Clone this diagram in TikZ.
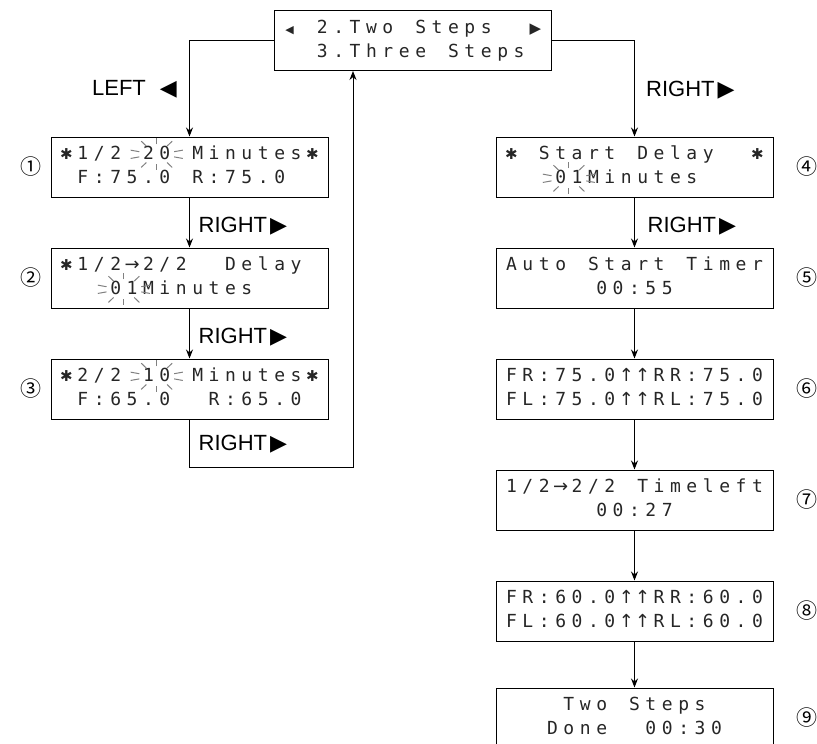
\documentclass[tikz,border=0pt]{standalone}
\usepackage{fontspec}
\setmainfont{Liberation Sans}
\newfontfamily\lcdfont{DejaVu Sans Mono}
\newfontfamily\dvsym{DejaVu Sans}
\newfontfamily\cjknum{Noto Sans CJK JP}
\usepackage{tikz}
\usetikzlibrary{arrows.meta, positioning, calc}

% one LCD line: every character in a cell of fixed width (~ for a blank cell)
\makeatletter
\newlength\lcdcw
\setlength\lcdcw{16.4pt}
\newcommand\lcdline[1]{\strut\lcd@next#1\relax}
\def\lcd@next#1{\ifx\relax#1\else\makebox[\lcdcw]{#1}\expandafter\lcd@next\fi}
\makeatother
\newcommand\lcdstar{{\dvsym\fontsize{15}{15}\selectfont ✱}}
\newcommand\lcdleft{{\dvsym\fontsize{11}{11}\selectfont ◀}}
\newcommand\lcdright{{\dvsym\fontsize{15}{15}\selectfont ▶}}
\newcommand\lcdup{{\dvsym ↑}}
\newcommand\lcdto{{\dvsym →}}
\newcommand\rightkey{RIGHT\hspace{3pt}{\dvsym ▶}}

\begin{document}
\begin{tikzpicture}[
    x=1pt, y=-1pt,
    lcdbox/.style={
        rectangle,
        draw,
        line width=1pt,
        minimum width=277pt,
        minimum height=60pt,
        inner sep=0pt,
        align=center,
        text=black!85,
        font=\lcdfont\fontsize{18}{24}\selectfont
    },
    arrow/.style={
        -{Stealth[length=9pt, width=7pt]},
        line width=1pt
    },
    keylbl/.style={
        font=\fontsize{22}{22}\selectfont,
        inner sep=0pt
    },
    stepnum/.style={
        font=\cjknum\fontsize{21}{21}\selectfont,
        inner sep=0pt
    },
    ray/.style={
        black!50,
        line width=1pt
    }
]
\useasboundingbox (0,0) rectangle (817,744);

% Nodes (menu on top)
\node[lcdbox] (menu) at (412.5,40.5) {\lcdline{\lcdleft~2.Two~Steps~~\lcdright}\\\lcdline{~~3.Three~Steps~}};

% Left column
\node[lcdbox] (two1) at (189.5,167) {\lcdline{\lcdstar1/2~20~Minutes\lcdstar}\\\lcdline{~F:75.0~R:75.0~~}};
\node[lcdbox, below=50pt of two1] (two2) {\lcdline{\lcdstar1/2\lcdto2/2~~Delay~}\\\lcdline{~~~01Minutes~~~~}};
\node[lcdbox, below=50pt of two2] (two3) {\lcdline{\lcdstar2/2~10~Minutes\lcdstar}\\\lcdline{~F:65.0~~R:65.0~}};

% Right column
\node[lcdbox] (run1) at (634.5,167) {\lcdline{\lcdstar~Start~Delay~~\lcdstar}\\\lcdline{~~~01Minutes~~~~}};
\node[lcdbox, below=50pt of run1] (run2) {\lcdline{Auto~Start~Timer}\\\lcdline{00:55}};
\node[lcdbox, below=50pt of run2] (run3) {\lcdline{FR:75.0\lcdup\lcdup RR:75.0}\\\lcdline{FL:75.0\lcdup\lcdup RL:75.0}};
\node[lcdbox, below=50pt of run3] (run4) {\lcdline{1/2\lcdto2/2~Timeleft}\\\lcdline{00:27}};
\node[lcdbox, below=50pt of run4] (run5) {\lcdline{FR:60.0\lcdup\lcdup RR:60.0}\\\lcdline{FL:60.0\lcdup\lcdup RL:60.0}};
\node[lcdbox, below=46pt of run5] (run6) {\lcdline{Two~Steps}\\\lcdline{Done~~00:30}};

% Step numbers
\node[stepnum, left=9pt of two1] (n1) {①};
\node[stepnum, left=9pt of two2] (n2) {②};
\node[stepnum, left=9pt of two3] (n3) {③};
\node[stepnum, right=23pt of run1] (n4) {④};
\node[stepnum, right=23pt of run2] (n5) {⑤};
\node[stepnum, right=23pt of run3] (n6) {⑥};
\node[stepnum, right=23pt of run4] (n7) {⑦};
\node[stepnum, right=23pt of run5] (n8) {⑧};
\node[stepnum, right=23pt of run6] (n9) {⑨};

% Blinking digits
\foreach \c/\dx/\dy in {two1/-32.8/-12.7, two3/-32.8/-12.7, two2/-65.6/11.3, run1/-65.6/11.3}
  \foreach \a in {15,55,90,125,165,195,235,270,305,345}
    \draw[ray] ($(\c.center)+(\dx,\dy)+(\a:18 and 10)$) -- ($(\c.center)+(\dx,\dy)+(\a:27 and 16)$);

% Arrows
\draw[arrow] (menu.west) -| (two1.north);
\draw[arrow] (menu.east) -| (run1.north);
\draw[arrow] (two1) -- (two2);
\draw[arrow] (two2) -- (two3);
\coordinate (back) at (353,467);
\draw[arrow] (two3.south) |- (back) -- (back |- menu.south);
\foreach \a/\b in {run1/run2, run2/run3, run3/run4, run4/run5, run5/run6}
  \draw[arrow] (\a) -- (\b);

% Key labels
\node[keylbl, anchor=east] (kleft) at (177,89) {LEFT\hspace{14pt}{\dvsym ◀}};
\node[keylbl, anchor=west] (kright) at (646,90) {\rightkey};
\node[keylbl, anchor=west] (k1) at ($(two1.south)!0.5!(two2.north)+(9,4)$) {\rightkey};
\node[keylbl, anchor=west] (k2) at ($(two2.south)!0.5!(two3.north)+(9,4)$) {\rightkey};
\node[keylbl, anchor=west] (k3) at ($(two3.south)+(9,25)$) {\rightkey};
\node[keylbl, anchor=west] (k4) at ($(run1.south)!0.5!(run2.north)+(13,4)$) {\rightkey};
\end{tikzpicture}
\end{document}
